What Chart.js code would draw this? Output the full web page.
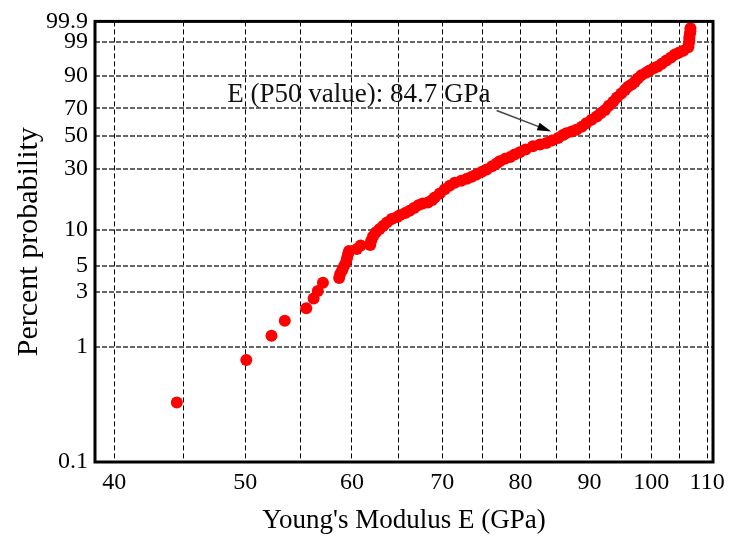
<!DOCTYPE html>
<html>
<head>
<meta charset="utf-8">
<script src="https://cdn.jsdelivr.net/npm/chart.js@4.4.1/dist/chart.umd.min.js"></script>
<style>
  html, body { margin: 0; padding: 0; background: #fff; }
  #wrap { width: 733px; height: 542px; position: relative; }
</style>
</head>
<body>
<div id="wrap"><canvas id="weibullChart"></canvas></div>
<script>
// axis ticks
const xGridValues = [40, 45, 50, 55, 60, 65, 70, 75, 80, 85, 90, 95, 100, 105, 110];
const xLabelValues = [40, 50, 60, 70, 80, 90, 100, 110];
const yTickValues = [0.1, 1, 3, 5, 10, 30, 50, 70, 90, 99, 99.9];
const yTickLabels = ["0.1", "1", "3", "5", "10", "30", "50", "70", "90", "99", "99.9"];

// Young's modulus of each specimen (GPa)
const modulusE = [
  44.5, 50.1, 52.3, 53.5, 55.5, 56.2, 56.6, 57.1,
  58.7, 58.8, 59.0, 59.2, 59.4, 59.5, 59.6, 59.7,
  60.5, 60.9,
  61.9, 62.0, 62.2, 62.5, 62.9, 63.3, 63.7, 64.2, 64.8, 65.1, 65.7, 66.2, 66.7, 67.2, 67.7, 68.3, 68.8, 69.1, 69.7,
  70.3, 70.9, 71.5, 72.3, 73.0, 73.6, 74.2, 74.9, 75.5, 76.2, 76.8, 77.2, 77.9, 78.6, 79.2, 79.9,
  80.7, 81.7, 82.7, 83.6, 84.4, 85.3, 86.0, 86.5, 87.3, 88.0, 88.8, 89.5,
  90.3, 91.1, 91.7, 92.4, 93.0, 93.7, 94.3, 95.0, 95.6, 96.1, 96.7, 97.2, 97.7, 98.3, 99.1, 99.7,
  100.4, 101.1, 101.8, 102.6, 103.4, 104.1, 104.8, 105.6, 106.5, 106.6, 106.7, 106.7, 106.8, 106.9, 106.9
];

// cumulative percent probability of each specimen
const percentProb = [
  0.33, 0.77, 1.25, 1.69, 2.16, 2.63, 3.04, 3.58,
  3.94, 4.26, 4.58, 4.98, 5.38, 5.82, 6.29, 6.66,
  6.92, 7.40,
  7.47, 8.14, 8.86, 9.56, 10.18, 10.82, 11.53, 12.28, 12.78, 13.2, 13.77, 14.34, 15.1, 15.9, 16.39, 16.68, 17.47, 18.25, 19.62,
  21.17, 22.59, 23.78, 24.63, 25.49, 26.38, 27.4, 28.7, 29.82, 31.43, 32.89, 34.19, 35.47, 36.6, 38.06, 39.37,
  41.09, 43.1, 44.26, 45.22, 46.89, 48.56, 50.63, 52.01, 53.22, 54.35, 56.65, 59.18,
  61.74, 64.07, 66.49, 68.87, 71.88, 74.82, 77.74, 80.35, 82.51, 84.4, 85.7, 87.15, 88.85, 90.36, 91.53, 92.44,
  93.29, 93.89, 94.8, 95.71, 96.51, 97.13, 97.5, 97.85, 98.35, 98.77, 99.07, 99.34, 99.53, 99.65, 99.76
];

const p50Label = "E (P50 value): 84.7 GPa";

// weibull paper: ln(-ln(1-F))
function weib(pct) {
  return Math.log(-Math.log(1 - pct / 100));
}

const serif = "'Liberation Serif', 'Times New Roman', serif";

const frameAndNote = {
  id: "frameAndNote",
  afterDatasetsDraw(chart) {
    const { ctx, chartArea: a, scales: { x, y } } = chart;
    ctx.save();

    // label
    ctx.font = "27px " + serif;
    ctx.fillStyle = "#111";
    ctx.textBaseline = "middle";
    ctx.textAlign = "left";
    ctx.fillText(p50Label, x.getPixelForValue(48.5), y.getPixelForValue(weib(79.1)));

    // arrow to the P50 point
    const x0 = x.getPixelForValue(76.8), y0 = y.getPixelForValue(weib(68.5));
    const x1 = x.getPixelForValue(84.3), y1 = y.getPixelForValue(weib(53.2));
    const ang = Math.atan2(y1 - y0, x1 - x0);
    const c = Math.cos(ang), s = Math.sin(ang);
    ctx.strokeStyle = "#444";
    ctx.lineWidth = 1.5;
    ctx.beginPath();
    ctx.moveTo(x0, y0);
    ctx.lineTo(x1 - 12 * c, y1 - 12 * s);
    ctx.stroke();
    ctx.fillStyle = "#000";
    ctx.beginPath();
    ctx.moveTo(x1, y1);
    ctx.lineTo(x1 - 14 * c + 4 * s, y1 - 14 * s - 4 * c);
    ctx.lineTo(x1 - 14 * c - 4 * s, y1 - 14 * s + 4 * c);
    ctx.closePath();
    ctx.fill();

    // plot frame
    ctx.strokeStyle = "#000";
    ctx.lineWidth = 3;
    ctx.strokeRect(a.left, a.top, a.right - a.left, a.bottom - a.top);
    ctx.restore();
  }
};

new Chart(document.getElementById("weibullChart"), {
  type: "scatter",
  data: {
    datasets: [{
      data: modulusE.map((e, i) => ({ x: e, y: weib(percentProb[i]) })),
      backgroundColor: "#ff0000",
      borderWidth: 0,
      pointRadius: 6,
      pointHoverRadius: 6
    }]
  },
  options: {
    responsive: true,
    maintainAspectRatio: false,
    animation: false,
    layout: {
      padding: { top: 17, right: 20, left: 0, bottom: 0 }
    },
    plugins: {
      legend: { display: false },
      tooltip: { enabled: false }
    },
    scales: {
      x: {
        type: "logarithmic",
        min: 38.7,
        max: 111.1,
        afterBuildTicks: (s) => { s.ticks = xGridValues.map((v) => ({ value: v })); },
        afterFit: (s) => { s.height = 80; },
        ticks: {
          autoSkip: false,
          maxRotation: 0,
          padding: 6,
          color: "#000",
          font: { family: serif, size: 24 },
          callback: (v) => (xLabelValues.includes(v) ? String(v) : "")
        },
        grid: { color: "#000", lineWidth: 1, drawTicks: false },
        border: { display: false, dash: [5, 3] },
        title: {
          display: true,
          text: "Young's Modulus E (GPa)",
          color: "#000",
          font: { family: serif, size: 27 },
          padding: { top: 0, bottom: 5 }
        }
      },
      y: {
        type: "linear",
        min: weib(0.1),
        max: weib(99.9),
        afterBuildTicks: (s) => { s.ticks = yTickValues.map((v) => ({ value: weib(v) })); },
        afterFit: (s) => { s.width = 95; },
        ticks: {
          autoSkip: false,
          padding: 7,
          color: "#000",
          font: { family: serif, size: 24 },
          callback: (v, i) => yTickLabels[i]
        },
        grid: { color: "#666", lineWidth: 2, drawTicks: false },
        border: { display: false, dash: [5, 2] },
        title: {
          display: true,
          text: "Percent probability",
          color: "#000",
          font: { family: serif, size: 30 },
          padding: { top: 11, bottom: 0 }
        }
      }
    }
  },
  plugins: [frameAndNote]
});
</script>
</body>
</html>
